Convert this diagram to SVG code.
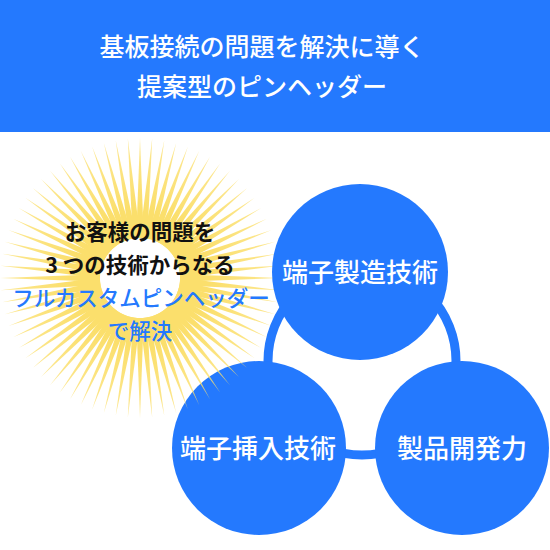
<svg xmlns="http://www.w3.org/2000/svg" xmlns:xlink="http://www.w3.org/1999/xlink" width="550" height="550" viewBox="0 0 550 550">
<style>
.t{font-family:"Noto Sans CJK JP","Noto Sans CJK SC",sans-serif;text-anchor:middle}
.hd{fill:#fff;font-size:25px;font-weight:500}
.nd{fill:#fff;font-size:26px;font-weight:500}
.bk{fill:#111;font-size:21.5px;font-weight:700}
.bl{fill:#2479FE;font-size:21.5px;font-weight:500}
.blue{fill:#2479FE}
</style>
<defs>
<radialGradient id="rg" gradientUnits="userSpaceOnUse" cx="0" cy="0" r="140">
<stop offset="0.5" stop-color="#FBDF6C"/>
<stop offset="1" stop-color="#FBDF6C" stop-opacity="0.75"/>
</radialGradient>
<radialGradient id="dg" gradientUnits="userSpaceOnUse" cx="0" cy="0" r="112">
<stop offset="0.7" stop-color="#FCE688"/>
<stop offset="0.88" stop-color="#FCE688" stop-opacity="0.7"/>
<stop offset="1" stop-color="#FCE688" stop-opacity="0"/>
</radialGradient>
<polygon id="ray" points="-3.8,-40 3.8,-40 0,-140" fill="url(#rg)"/>
</defs>
<rect id="header" x="0" y="0" width="550" height="132" class="blue"/>
<text class="t hd" x="262" y="56">基板接続の問題を解決に導く</text>
<text class="t hd" x="262" y="96">提案型のピンヘッダー</text>
<g id="connectors">
<circle cx="362" cy="361" r="94" fill="none" stroke="#2479FE" stroke-width="9"/>
</g>
<g id="node-insert">
<circle cx="259" cy="448" r="87" class="blue"/>
</g>
<g id="sunburst">
<circle cx="140" cy="278" r="112" fill="url(#dg)"/>
<g transform="translate(140 278)">
<use xlink:href="#ray" transform="rotate(0)"/><use xlink:href="#ray" transform="rotate(5)"/><use xlink:href="#ray" transform="rotate(10)"/><use xlink:href="#ray" transform="rotate(15)"/><use xlink:href="#ray" transform="rotate(20)"/><use xlink:href="#ray" transform="rotate(25)"/><use xlink:href="#ray" transform="rotate(30)"/><use xlink:href="#ray" transform="rotate(35)"/><use xlink:href="#ray" transform="rotate(40)"/><use xlink:href="#ray" transform="rotate(45)"/><use xlink:href="#ray" transform="rotate(50)"/><use xlink:href="#ray" transform="rotate(55)"/>
<use xlink:href="#ray" transform="rotate(60)"/><use xlink:href="#ray" transform="rotate(65)"/><use xlink:href="#ray" transform="rotate(70)"/><use xlink:href="#ray" transform="rotate(75)"/><use xlink:href="#ray" transform="rotate(80)"/><use xlink:href="#ray" transform="rotate(85)"/><use xlink:href="#ray" transform="rotate(90)"/><use xlink:href="#ray" transform="rotate(95)"/><use xlink:href="#ray" transform="rotate(100)"/><use xlink:href="#ray" transform="rotate(105)"/><use xlink:href="#ray" transform="rotate(110)"/><use xlink:href="#ray" transform="rotate(115)"/>
<use xlink:href="#ray" transform="rotate(120)"/><use xlink:href="#ray" transform="rotate(125)"/><use xlink:href="#ray" transform="rotate(130)"/><use xlink:href="#ray" transform="rotate(135)"/><use xlink:href="#ray" transform="rotate(140)"/><use xlink:href="#ray" transform="rotate(145)"/><use xlink:href="#ray" transform="rotate(150)"/><use xlink:href="#ray" transform="rotate(155)"/><use xlink:href="#ray" transform="rotate(160)"/><use xlink:href="#ray" transform="rotate(165)"/><use xlink:href="#ray" transform="rotate(170)"/><use xlink:href="#ray" transform="rotate(175)"/>
<use xlink:href="#ray" transform="rotate(180)"/><use xlink:href="#ray" transform="rotate(185)"/><use xlink:href="#ray" transform="rotate(190)"/><use xlink:href="#ray" transform="rotate(195)"/><use xlink:href="#ray" transform="rotate(200)"/><use xlink:href="#ray" transform="rotate(205)"/><use xlink:href="#ray" transform="rotate(210)"/><use xlink:href="#ray" transform="rotate(215)"/><use xlink:href="#ray" transform="rotate(220)"/><use xlink:href="#ray" transform="rotate(225)"/><use xlink:href="#ray" transform="rotate(230)"/><use xlink:href="#ray" transform="rotate(235)"/>
<use xlink:href="#ray" transform="rotate(240)"/><use xlink:href="#ray" transform="rotate(245)"/><use xlink:href="#ray" transform="rotate(250)"/><use xlink:href="#ray" transform="rotate(255)"/><use xlink:href="#ray" transform="rotate(260)"/><use xlink:href="#ray" transform="rotate(265)"/><use xlink:href="#ray" transform="rotate(270)"/><use xlink:href="#ray" transform="rotate(275)"/><use xlink:href="#ray" transform="rotate(280)"/><use xlink:href="#ray" transform="rotate(285)"/><use xlink:href="#ray" transform="rotate(290)"/><use xlink:href="#ray" transform="rotate(295)"/>
<use xlink:href="#ray" transform="rotate(300)"/><use xlink:href="#ray" transform="rotate(305)"/><use xlink:href="#ray" transform="rotate(310)"/><use xlink:href="#ray" transform="rotate(315)"/><use xlink:href="#ray" transform="rotate(320)"/><use xlink:href="#ray" transform="rotate(325)"/><use xlink:href="#ray" transform="rotate(330)"/><use xlink:href="#ray" transform="rotate(335)"/><use xlink:href="#ray" transform="rotate(340)"/><use xlink:href="#ray" transform="rotate(345)"/><use xlink:href="#ray" transform="rotate(350)"/><use xlink:href="#ray" transform="rotate(355)"/>
</g>
<text class="t bk" x="140" y="240">お客様の問題を</text>
<text class="t bk" x="140" y="273">3 つの技術からなる</text>
<text class="t bl" x="141" y="306">フルカスタムピンヘッダー</text>
<text class="t bl" x="140" y="339">で解決</text>
</g>
<g id="node-manufacture">
<circle cx="360" cy="272" r="88" class="blue"/>
<text class="t nd" x="360" y="282">端子製造技術</text>
</g>
<g id="node-development">
<circle cx="462" cy="448" r="87" class="blue"/>
<text class="t nd" x="462" y="458">製品開発力</text>
</g>
<g id="node-insert-label">
<text class="t nd" x="258" y="458">端子挿入技術</text>
</g>
</svg>
